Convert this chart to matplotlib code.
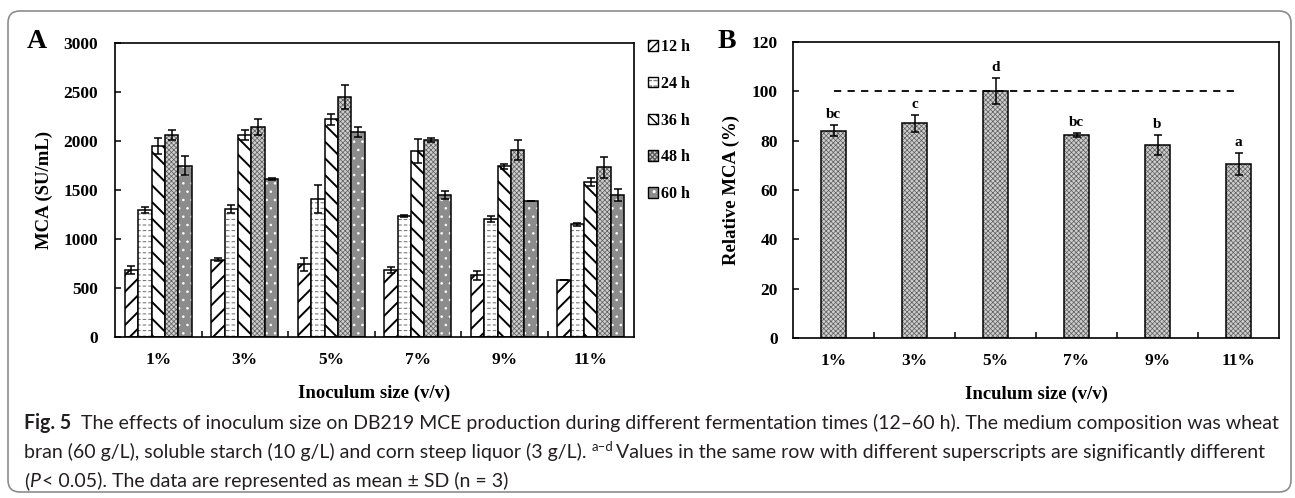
import numpy as np
import matplotlib
matplotlib.use("Agg")
import matplotlib.pyplot as plt
from matplotlib import font_manager
from matplotlib.patches import Patch, FancyBboxPatch
from matplotlib.transforms import IdentityTransform

# ---- data ----
sizes = ["1%", "3%", "5%", "7%", "9%", "11%"]
times = ["12 h", "24 h", "36 h", "48 h", "60 h"]

mca_12h = [680, 790, 740, 680, 630, 580]
sd_12h = [40, 15, 70, 30, 45, 0]
mca_24h = [1300, 1310, 1410, 1235, 1200, 1150]
sd_24h = [30, 40, 140, 12, 30, 15]
mca_36h = [1950, 2060, 2220, 1900, 1740, 1580]
sd_36h = [85, 50, 60, 120, 30, 40]
mca_48h = [2060, 2140, 2450, 2010, 1910, 1730]
sd_48h = [50, 80, 120, 25, 100, 110]
mca_60h = [1750, 1615, 2090, 1450, 1385, 1450]
sd_60h = [100, 10, 50, 40, 0, 60]

rel_mca = [84.0, 87.1, 100.0, 82.3, 78.2, 70.5]
rel_sd = [2.2, 3.4, 5.3, 0.9, 3.9, 4.6]
rel_letters = ["bc", "c", "d", "bc", "b", "a"]

# ---- styling ----
plt.rcParams["font.family"] = "serif"
plt.rcParams["font.serif"] = ["Liberation Serif", "DejaVu Serif"]
plt.rcParams["font.weight"] = "bold"
plt.rcParams["axes.labelweight"] = "bold"

W, H = 1295, 498
fig = plt.figure(figsize=(W / 100, H / 100), dpi=100)


def px_axes(x0, y0, x1, y1):
    return fig.add_axes([x0 / W, 1 - y1 / H, (x1 - x0) / W, (y1 - y0) / H])


# (face, hatch, hatch colour, hatch linewidth, breaker hatch)
bar_styles = [
    ("white", "//", "black", 1.4, None),
    ("white", "---", "#7a7a7a", 0.8, "|||"),
    ("white", "\\\\", "black", 1.4, None),
    ("#cdcdcd", "xxxxxxx", "#5c5c5c", 0.5, None),
    ("#8c8c8c", "..", "white", 0.6, None),
]


def hatched(ax, pos, vals, width, style):
    face, hatch, hcol, hlw, breaker = style
    with plt.rc_context({"hatch.linewidth": hlw}):
        ax.bar(pos, vals, width, color=face, edgecolor=hcol, hatch=hatch, linewidth=0)
    if breaker:
        with plt.rc_context({"hatch.linewidth": 1.5}):
            ax.bar(pos, vals, width, fill=False, edgecolor="white", hatch=breaker, linewidth=0)
    ax.bar(pos, vals, width, fill=False, edgecolor="black", linewidth=1.1)


def legend_handle(style):
    face, hatch, hcol, hlw, breaker = style
    # the small legend squares need a denser diagonal to show a stripe
    if hatch in ("//", "\\\\"):
        hatch = hatch * 2
    parts = []
    with plt.rc_context({"hatch.linewidth": hlw}):
        parts.append(Patch(facecolor=face, edgecolor=hcol, hatch=hatch, linewidth=0))
    if breaker:
        with plt.rc_context({"hatch.linewidth": 1.5}):
            parts.append(Patch(fill=False, edgecolor="white", hatch=breaker, linewidth=0))
    parts.append(Patch(fill=False, edgecolor="black", linewidth=1.0))
    return tuple(parts)


def style_axes(ax, xlabel, ylabel, ypad):
    ax.set_xlim(-0.5, len(sizes) - 0.5)
    ax.set_xticks(np.arange(len(sizes)), sizes)
    ax.set_xticks(np.arange(len(sizes) - 1) + 0.5, minor=True)
    ax.tick_params(axis="x", which="major", length=0, pad=11, labelsize=12.5)
    ax.tick_params(axis="x", which="minor", direction="in", length=4, width=1.1)
    ax.tick_params(axis="y", direction="in", length=4, width=1.1, pad=ypad, labelsize=12.5)
    ax.set_xlabel(xlabel, fontsize=13.5, labelpad=12)
    ax.set_ylabel(ylabel, fontsize=13.5, labelpad=8)
    for s in ax.spines.values():
        s.set_linewidth(1.2)


x = np.arange(len(sizes))

# ---- panel A: MCA at each fermentation time ----
ax1 = px_axes(115, 43, 634, 337)
series = [(mca_12h, sd_12h), (mca_24h, sd_24h), (mca_36h, sd_36h),
          (mca_48h, sd_48h), (mca_60h, sd_60h)]
bw = 0.155
for i, ((vals, sds), st) in enumerate(zip(series, bar_styles)):
    pos = x + (i - 2) * bw
    hatched(ax1, pos, vals, bw, st)
    ax1.errorbar(pos, vals, yerr=sds, fmt="none", ecolor="black",
                 elinewidth=1.1, capsize=3.2, capthick=1.1)
ax1.set_ylim(0, 3000)
ax1.set_yticks(np.arange(0, 3001, 500))
style_axes(ax1, "Inoculum size (v/v)", "MCA (SU/mL)", 12)

fig.legend([legend_handle(st) for st in bar_styles], times,
           loc="upper left", bbox_to_anchor=(648 / W, 1 - 39 / H),
           frameon=False, fontsize=11.5, handlelength=0.65, handleheight=0.65,
           handletextpad=0.15, labelspacing=1.3, borderpad=0, borderaxespad=0)

# ---- panel B: relative MCA ----
ax2 = px_axes(793, 42, 1279, 338)
hatched(ax2, x, rel_mca, 0.32, bar_styles[3])
ax2.errorbar(x, rel_mca, yerr=rel_sd, fmt="none", ecolor="black",
             elinewidth=1.1, capsize=3.2, capthick=1.1)
for xi, v, s, lab in zip(x, rel_mca, rel_sd, rel_letters):
    ax2.annotate(lab, (xi, v + s), xytext=(0, 3), textcoords="offset points",
                 ha="center", va="bottom", fontsize=11)
ax2.plot([x[0], x[-1]], [100, 100], color="black", lw=1.3, dashes=(4, 3.5))
ax2.set_ylim(0, 120)
ax2.set_yticks(np.arange(0, 121, 20))
style_axes(ax2, "Inculum size (v/v)", "Relative MCA (%)", 11)

fig.text(27 / W, 1 - 42 / H, "A", fontsize=20, va="center", ha="left")
fig.text(718 / W, 1 - 42 / H, "B", fontsize=20, va="center", ha="left")

# ---- outer frame ----
fig.add_artist(FancyBboxPatch((8, 6), 1283, 481,
                              boxstyle="round,pad=0,rounding_size=12",
                              transform=IdentityTransform(), fill=False,
                              edgecolor="#8c8c8c", linewidth=1.2))

# ---- caption ----
avail = {f.name for f in font_manager.fontManager.ttflist}
cap_font = next((n for n in ["Liberation Sans Narrow", "Lato", "Open Sans"] if n in avail),
                "DejaVu Sans")
cap_color = "#231f20"
renderer = fig.canvas.get_renderer()

line1 = ("Fig. 5  The effects of inoculum size on DB219 MCE production during different "
         "fermentation times (12–60 h). The medium composition was wheat")
probe = fig.text(0, 0, line1, transform=IdentityTransform(), family=cap_font,
                 fontsize=12, weight="normal")
cap_size = 12 * 1255 / probe.get_window_extent(renderer).width
probe.remove()

probe = fig.text(0, 0, "x x", transform=IdentityTransform(), family=cap_font, fontsize=cap_size)
w3 = probe.get_window_extent(renderer).width
probe.set_text("xx")
space_w = w3 - probe.get_window_extent(renderer).width
probe.remove()


def caption_line(y, pieces):
    xpos = 24
    for text, gap, kw in pieces:
        xpos += gap * space_w
        opts = dict(family=cap_font, fontsize=cap_size, weight="normal",
                    color=cap_color, va="baseline", ha="left")
        dy = kw.pop("dy", 0)
        opts.update(kw)
        t = fig.text(xpos, y + dy, text, transform=IdentityTransform(), **opts)
        xpos = t.get_window_extent(renderer).x1


caption_line(H - 429, [
    ("Fig. 5", 0, dict(weight="bold")),
    ("The effects of inoculum size on DB219 MCE production during different "
     "fermentation times (12–60 h). The medium composition was wheat", 2, {}),
])
caption_line(H - 458, [
    ("bran (60 g/L), soluble starch (10 g/L) and corn steep liquor (3 g/L).", 0, {}),
    ("a–d", 1, dict(fontsize=cap_size * 0.68, dy=cap_size * 0.5)),
    ("Values in the same row with different superscripts are significantly different", 0.6, {}),
])
caption_line(H - 487, [
    ("(", 0, {}),
    ("P", 0, dict(style="italic")),
    ("< 0.05). The data are represented as mean ± SD (n = 3)", 0.3, {}),
])

fig.savefig("out.png", dpi=100)
